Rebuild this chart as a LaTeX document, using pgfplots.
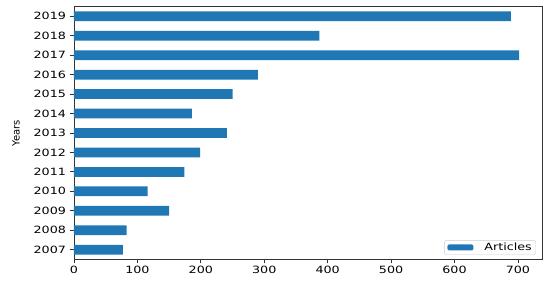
\documentclass[border=0pt]{standalone}
\usepackage{fontspec}
\setmainfont{DejaVu Sans}[FakeStretch=1.27]
\newfontfamily\plainfont{DejaVu Sans}
\usepackage{pgfplots}
\pgfplotsset{compat=1.18}
\definecolor{mplblue}{HTML}{1F77B4}

\begin{document}
\begin{tikzpicture}
\useasboundingbox (-74pt,-25.6pt) rectangle (476pt,259.4pt);
\begin{axis}[
  scale only axis,
  width=468.7pt, height=252.8pt,
  xmin=0, xmax=739,
  ymin=-0.5, ymax=12.5,
  xtick={0,100,...,700},
  ytick={0,...,12},
  yticklabels={2007,2008,2009,2010,2011,2012,2013,2014,2015,2016,2017,2018,2019},
  tick align=outside,
  major tick length=4pt,
  tick style={black!80, line width=0.8pt},
  axis line style={black!80, line width=0.8pt},
  xtick pos=bottom, ytick pos=left,
  /pgf/number format/assume math mode=true,
  ticklabel style={font=\fontsize{10}{12}\selectfont},
  xticklabel style={yshift=1pt},
  yticklabel style={xshift=-0.5pt},
  ylabel={\plainfont\fontsize{10}{12}\selectfont Years},
  ylabel style={yshift=7pt},
  legend style={at={(1,0)}, anchor=south east, xshift=-6.7pt, yshift=4.7pt,
    draw=black!20, rounded corners=2pt, inner xsep=2pt, inner ysep=0.5pt,
    font=\fontsize{10}{10}\selectfont},
  legend image code/.code={\path (-1pt,0pt) (35pt,0pt);
    \fill[mplblue] (0pt,-3pt) rectangle (26pt,3pt);},
]
\addplot[xbar, bar width=0.5, bar shift=0pt, fill=mplblue, draw=none] table {
x y
77 0
83 1
150 2
116 3
174 4
199 5
241 6
186 7
250 8
290 9
702 10
387 11
689 12
};
\addlegendentry{Articles}
\end{axis}
\end{tikzpicture}
\end{document}
